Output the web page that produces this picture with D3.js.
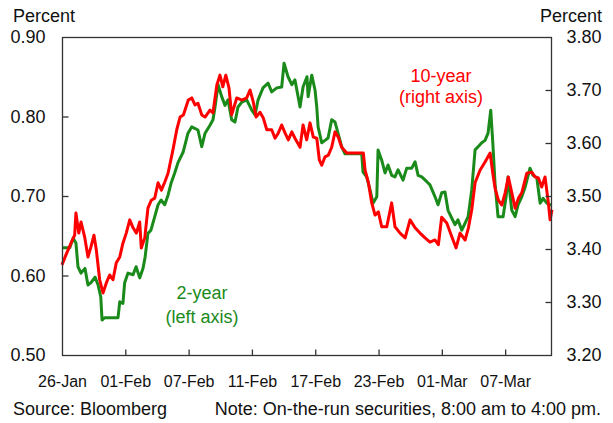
<!DOCTYPE html>
<html>
<head>
<meta charset="utf-8">
<script src="https://cdn.jsdelivr.net/npm/d3@7"></script>
<style>
  html, body { margin: 0; padding: 0; background: #fff; }
  svg { display: block; font-family: "Liberation Sans", Arial, sans-serif; }
</style>
</head>
<body>
<svg id="chart" width="613" height="423"></svg>
<script>
// ---- Data (trading-day index from 26-Jan, intraday) ----
const xTickDays = [0, 4, 8, 12, 16, 20, 24, 28];
const xTickLabels = ["26-Jan", "01-Feb", "07-Feb", "11-Feb", "17-Feb", "23-Feb", "01-Mar", "07-Mar"];
const leftTicks = [0.50, 0.60, 0.70, 0.80, 0.90];
const rightTicks = [3.20, 3.30, 3.40, 3.50, 3.60, 3.70, 3.80];

// 2-year yield (left axis)
const twoYearDay = [0.00,0.49,0.70,0.88,1.01,1.20,1.45,1.64,1.83,2.09,2.28,2.45,2.53,2.70,3.54,3.65,3.85,3.96,4.17,4.49,
  4.68,4.91,5.12,5.25,5.43,5.62,5.86,6.07,6.26,6.49,6.70,6.89,7.12,7.33,7.65,7.96,8.20,8.59,8.83,9.04,
  9.35,9.54,9.67,9.86,10.09,10.30,10.49,10.72,10.93,11.12,11.36,11.67,11.99,12.20,12.39,12.70,13.02,13.25,13.57,13.88,
  14.03,14.28,14.52,14.72,15.04,15.23,15.48,15.55,15.78,15.99,16.10,16.18,16.41,16.62,16.81,17.04,17.25,17.44,17.67,17.88,
  18.94,19.02,19.25,19.46,19.65,19.89,19.97,20.20,20.41,20.60,20.83,21.04,21.23,21.55,21.78,22.10,22.31,22.50,22.73,23.05,
  23.25,23.57,23.76,23.99,24.20,24.39,24.63,24.83,25.02,25.26,25.47,25.66,25.89,26.10,26.29,26.52,26.73,26.92,27.09,27.22,
  27.36,27.55,27.87,28.06,28.18,28.42,28.63,28.82,29.05,29.26,29.57,29.76,30.00,30.21,30.40,30.63,30.84,30.96];
const twoYearPct = [0.635,0.635,0.647,0.641,0.611,0.603,0.609,0.588,0.591,0.598,0.588,0.573,0.544,0.547,0.547,0.567,0.565,0.591,0.603,0.601,
  0.611,0.597,0.609,0.623,0.653,0.657,0.674,0.689,0.695,0.689,0.701,0.716,0.729,0.742,0.755,0.779,0.787,0.783,0.762,0.779,
  0.789,0.796,0.812,0.840,0.825,0.814,0.821,0.796,0.793,0.812,0.818,0.821,0.808,0.802,0.821,0.836,0.842,0.831,0.836,0.837,
  0.867,0.850,0.840,0.846,0.812,0.837,0.850,0.825,0.852,0.833,0.811,0.787,0.767,0.770,0.773,0.796,0.793,0.779,0.762,0.753,
  0.753,0.730,0.724,0.708,0.691,0.699,0.758,0.745,0.729,0.739,0.726,0.724,0.733,0.720,0.735,0.735,0.743,0.726,0.724,0.718,
  0.714,0.699,0.689,0.704,0.705,0.682,0.672,0.664,0.670,0.657,0.666,0.674,0.708,0.758,0.762,0.767,0.770,0.779,0.808,0.767,
  0.716,0.674,0.674,0.699,0.724,0.682,0.674,0.689,0.699,0.711,0.735,0.726,0.723,0.691,0.697,0.691,0.689,0.689];

// 10-year yield (right axis)
const tenYearDay = [0.00,0.25,0.57,0.80,0.88,1.06,1.20,1.43,1.64,1.83,2.02,2.17,2.38,2.59,2.80,3.01,3.22,3.43,3.65,3.85,
  4.06,4.28,4.49,4.70,4.91,5.01,5.23,5.43,5.64,5.86,6.07,6.28,6.49,6.70,7.01,7.25,7.46,7.67,7.98,8.20,
  8.40,8.59,8.83,9.04,9.35,9.54,9.78,9.98,10.16,10.35,10.55,10.72,11.04,11.36,11.67,11.88,12.09,12.26,12.51,12.72,
  12.94,13.25,13.46,13.67,13.88,14.09,14.30,14.52,14.72,15.04,15.23,15.46,15.67,15.88,16.10,16.26,16.41,16.62,16.83,17.04,
  17.25,17.46,17.67,17.99,19.04,19.15,19.36,19.57,19.78,19.99,20.20,20.52,20.83,21.04,21.36,21.68,21.99,22.31,22.62,22.94,
  23.25,23.57,23.78,23.99,24.31,24.63,24.90,25.15,25.47,25.68,25.89,26.10,26.42,26.73,27.05,27.22,27.36,27.57,27.79,28.00,
  28.20,28.42,28.63,28.84,29.05,29.37,29.68,29.89,30.10,30.31,30.52,30.73,30.84,30.96];
const tenYearPct = [3.370,3.389,3.411,3.426,3.468,3.430,3.451,3.423,3.385,3.404,3.426,3.398,3.342,3.317,3.336,3.351,3.342,3.374,3.385,3.411,
  3.430,3.455,3.440,3.430,3.451,3.402,3.421,3.477,3.492,3.496,3.525,3.511,3.526,3.543,3.587,3.625,3.649,3.653,3.681,3.685,
  3.672,3.675,3.653,3.649,3.662,3.657,3.709,3.728,3.706,3.728,3.704,3.653,3.685,3.681,3.685,3.700,3.677,3.649,3.658,3.647,
  3.625,3.625,3.609,3.619,3.634,3.619,3.606,3.621,3.609,3.592,3.634,3.606,3.638,3.611,3.609,3.568,3.558,3.574,3.577,3.592,
  3.621,3.611,3.592,3.581,3.581,3.549,3.525,3.487,3.464,3.470,3.442,3.442,3.487,3.442,3.430,3.421,3.455,3.440,3.430,3.421,
  3.413,3.417,3.408,3.460,3.449,3.423,3.402,3.430,3.417,3.440,3.474,3.525,3.549,3.564,3.581,3.543,3.515,3.492,3.483,3.506,
  3.536,3.506,3.477,3.496,3.506,3.543,3.545,3.536,3.534,3.517,3.536,3.487,3.455,3.474];

// ---- Layout ----
const svg = d3.select("#chart");
const plot = { left: 62, right: 552, top: 37, bottom: 355 };
const green = "#1a8a1a";
const red = "#ff0000";

const x = d3.scaleLinear().domain([0, 30.96]).range([plot.left, plot.right]);
const yL = d3.scaleLinear().domain([0.50, 0.90]).range([plot.bottom, plot.top]);
const yR = d3.scaleLinear().domain([3.20, 3.80]).range([plot.bottom, plot.top]);

// Lines
const g2 = twoYearDay.map((d, i) => [d, twoYearPct[i]]);
const g10 = tenYearDay.map((d, i) => [d, tenYearPct[i]]);

svg.append("path").datum(g2)
  .attr("fill", "none").attr("stroke", green).attr("stroke-width", 3)
  .attr("stroke-linejoin", "round")
  .attr("d", d3.line().x(d => x(d[0])).y(d => yL(d[1])));

svg.append("path").datum(g10)
  .attr("fill", "none").attr("stroke", red).attr("stroke-width", 3)
  .attr("stroke-linejoin", "round")
  .attr("d", d3.line().x(d => x(d[0])).y(d => yR(d[1])));

// Frame
svg.append("rect")
  .attr("x", plot.left + 0.5).attr("y", plot.top + 0.5)
  .attr("width", plot.right - plot.left - 1).attr("height", plot.bottom - plot.top)
  .attr("fill", "none").attr("stroke", "#333").attr("stroke-width", 1.3);

// Axes
const axL = svg.append("g").attr("transform", `translate(${plot.left + 0.5},0)`)
  .call(d3.axisLeft(yL).tickValues(leftTicks).tickFormat(d3.format(".2f")).tickSize(-6).tickPadding(17));
const axR = svg.append("g").attr("transform", `translate(${plot.right - 0.5},0)`)
  .call(d3.axisRight(yR).tickValues(rightTicks).tickFormat(d3.format(".2f")).tickSize(-6).tickPadding(15));
const axB = svg.append("g").attr("transform", `translate(0,${plot.bottom + 0.5})`)
  .call(d3.axisBottom(x).tickValues(xTickDays).tickFormat((d, i) => xTickLabels[i]).tickSize(-6).tickPadding(20));

[axL, axR, axB].forEach(a => {
  a.select(".domain").remove();
  a.selectAll(".tick line").attr("stroke", "#333").attr("stroke-width", 1.3);
  a.selectAll("text").attr("fill", "#111").attr("font-family", "Liberation Sans, Arial, sans-serif");
});
axL.selectAll("text").attr("font-size", 18);
axR.selectAll("text").attr("font-size", 18);
axB.selectAll("text").attr("font-size", 16);
// hide tick marks at frame edges
axL.selectAll(".tick line").filter(d => d === 0.50 || d === 0.90).remove();
axR.selectAll(".tick line").filter(d => d === 3.20 || d === 3.80).remove();
axB.selectAll(".tick line").filter(d => d === 0).remove();

// Axis titles
svg.append("text").attr("x", 13).attr("y", 22).attr("font-size", 18).attr("fill", "#111").text("Percent");
svg.append("text").attr("x", 602).attr("y", 22).attr("font-size", 18).attr("fill", "#111")
  .attr("text-anchor", "end").text("Percent");

// Series labels
svg.append("text").attr("x", 441).attr("y", 82).attr("font-size", 18).attr("fill", red)
  .attr("text-anchor", "middle").text("10-year");
svg.append("text").attr("x", 441).attr("y", 103).attr("font-size", 18).attr("fill", red)
  .attr("text-anchor", "middle").text("(right axis)");
svg.append("text").attr("x", 202).attr("y", 299).attr("font-size", 18).attr("fill", green)
  .attr("text-anchor", "middle").text("2-year");
svg.append("text").attr("x", 202).attr("y", 323).attr("font-size", 18).attr("fill", green)
  .attr("text-anchor", "middle").text("(left axis)");

// Footer
svg.append("text").attr("x", 13).attr("y", 415).attr("font-size", 18).attr("fill", "#111").text("Source: Bloomberg");
svg.append("text").attr("x", 601).attr("y", 415).attr("font-size", 18).attr("fill", "#111")
  .attr("text-anchor", "end").text("Note: On-the-run securities, 8:00 am to 4:00 pm.");
</script>
</body>
</html>
